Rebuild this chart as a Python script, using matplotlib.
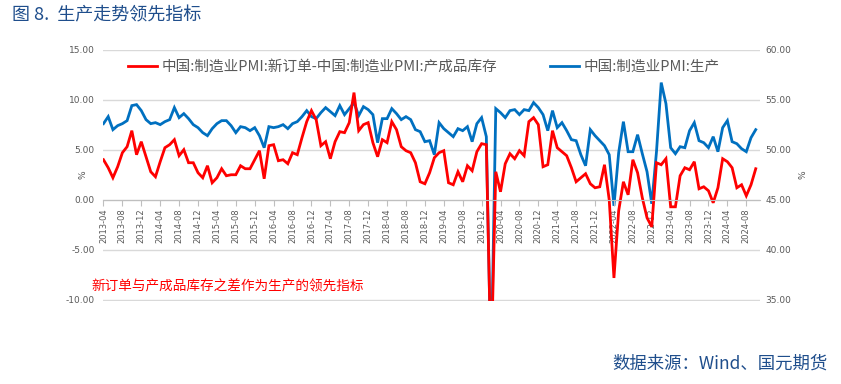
import pandas as pd
import numpy as np
import matplotlib
matplotlib.use("Agg")
import matplotlib.pyplot as plt

plt.rcParams['font.family'] = ['DejaVu Sans', 'Noto Sans CJK SC']
CJK = ['Noto Sans CJK SC', 'DejaVu Sans']

START_MONTH = '2013-04'
N_MONTHS = 139

# 中国:制造业PMI:新订单 - 中国:制造业PMI:产成品库存 (left axis)
spread = [4.0, 3.2, 2.2, 3.3, 4.7, 5.3, 6.9, 4.5, 5.8,
          4.3, 2.8, 2.3, 3.8, 5.2, 5.5, 6.0, 4.4, 5.0, 3.7, 3.7, 2.7,
          2.2, 3.4, 1.7, 2.2, 3.1, 2.4, 2.5, 2.5, 3.4, 3.1, 3.1, 4.0,
          4.9, 2.1, 5.4, 5.5, 3.9, 4.0, 3.6, 4.7, 4.5, 6.2, 7.8, 8.9,
          8.0, 5.4, 5.8, 4.1, 5.8, 6.8, 6.7, 7.7, 10.7, 6.9, 7.5, 7.7,
          5.7, 4.3, 6.0, 5.7, 7.8, 7.0, 5.3, 4.9, 4.7, 3.7, 1.8, 1.6,
          2.7, 4.2, 4.7, 4.9, 1.7, 1.5, 2.8, 1.8, 3.4, 2.9, 4.8, 5.6,
          5.5, -16.8, 2.8, 0.8, 3.6, 4.6, 4.1, 4.9, 4.4, 7.8, 8.2, 7.5,
          3.3, 3.5, 6.9, 5.2, 4.8, 4.4, 3.2, 1.8, 2.2, 2.6, 1.6, 1.2,
          1.3, 3.5, 0.0, -7.8, -1.1, 1.8, 0.5, 4.0, 2.7, 0.2, -1.8, -2.7,
          3.7, 3.5, 4.1, -0.7, -0.7, 2.4, 3.2, 3.0, 3.8, 1.1, 1.3, 0.9,
          -0.3, 1.2, 4.1, 3.8, 3.2, 1.2, 1.5, 0.4, 1.5, 3.1]

# 中国:制造业PMI:生产 (right axis)
production = [52.6, 53.3, 52.0, 52.4, 52.6, 52.9, 54.4, 54.5, 53.9,
              53.0, 52.6, 52.7, 52.5, 52.8, 53.0, 54.2, 53.2, 53.6, 53.1, 52.5, 52.2,
              51.7, 51.4, 52.1, 52.6, 52.9, 52.9, 52.4, 51.7, 52.3, 52.2, 51.9, 52.2,
              51.4, 50.2, 52.3, 52.2, 52.3, 52.5, 52.1, 52.6, 52.8, 53.3, 53.9, 53.3,
              53.1, 53.7, 54.2, 53.8, 53.4, 54.4, 53.5, 54.1, 54.7, 53.4, 54.3, 54.0,
              53.5, 50.7, 53.1, 53.1, 54.1, 53.6, 53.0, 53.3, 53.0, 52.0, 51.8, 50.8,
              50.9, 49.5, 52.7, 52.1, 51.7, 51.3, 52.1, 51.9, 52.3, 50.8, 52.6, 53.2,
              51.3, 27.8, 54.1, 53.7, 53.2, 53.9, 54.0, 53.5, 54.0, 53.9, 54.7, 54.2,
              53.5, 51.9, 53.9, 52.2, 52.7, 51.9, 51.0, 50.9, 49.5, 48.4, 52.0, 51.4,
              50.9, 50.4, 49.5, 44.4, 49.7, 52.8, 49.8, 49.8, 51.5, 49.6, 47.8, 44.6,
              49.8, 56.7, 54.6, 50.2, 49.6, 50.3, 50.2, 51.9, 52.7, 50.9, 50.7, 50.2,
              51.3, 49.8, 52.2, 52.9, 50.8, 50.6, 50.1, 49.8, 51.2, 52.0]

months = pd.date_range(START_MONTH, periods=N_MONTHS, freq='MS').strftime('%Y-%m').tolist()
x = np.arange(N_MONTHS)

fig = plt.figure(figsize=(8.41, 3.84), dpi=100)
ax2 = fig.add_axes([103 / 841, 1 - 300.5 / 384, (760 - 103) / 841, 251 / 384])
ax = ax2.twinx()
ax.set_zorder(ax2.get_zorder() + 1)
ax.patch.set_visible(False)

grid_c = '#d9d9d9'
ax2.plot(x, production, color='#0070C0', lw=2.0, label='中国:制造业PMI:生产', solid_joinstyle='miter')
ax.plot(x, spread, color='#FF0000', lw=2.0, label='中国:制造业PMI:新订单-中国:制造业PMI:产成品库存',
        solid_joinstyle='miter')

# ax is the twin (drawn on top) -> swap sides so red owns the left scale
ax.yaxis.tick_left()
ax2.yaxis.tick_right()
ax.set_ylim(-10.05, 15)
ax2.set_ylim(34.95, 60)
ax.set_yticks(np.arange(-10, 15.1, 5))
ax2.set_yticks(np.arange(35, 60.1, 5))
ax.set_yticklabels(['%.2f' % v for v in np.arange(-10, 15.1, 5)])
ax2.set_yticklabels(['%.2f' % v for v in np.arange(35, 60.1, 5)])
ax2.yaxis.grid(True, color=grid_c, lw=1.0)
ax2.set_axisbelow(True)
ax.tick_params(axis='y', length=0, labelsize=6.5, labelcolor='#595959', pad=6)
ax2.tick_params(axis='y', length=0, labelsize=6.5, labelcolor='#595959', pad=4)
for a in (ax, ax2):
    for s in ('top', 'left', 'right', 'bottom'):
        a.spines[s].set_visible(False)

ax.set_xlim(-0.1, N_MONTHS - 0.1)
ax2.tick_params(axis='x', length=0, labelbottom=False)
ax.xaxis.set_visible(True)
ax.spines['bottom'].set_visible(True)
ax.spines['bottom'].set_position(('data', 0))
ax.spines['bottom'].set_color('#bfbfbf')
ax.xaxis.set_ticks_position('bottom')
ax.set_xticks(x[::4])
ax.set_xticklabels(months[::4], rotation=90)
ax.tick_params(axis='x', length=4, color='#bfbfbf', labelsize=6, labelcolor='#595959', pad=2,
               labelbottom=True)

fig.text(83 / 841, 1 - 175 / 384, '%', rotation=90, fontsize=6.5, color='#595959', ha='center', va='center')
fig.text(803 / 841, 1 - 175 / 384, '%', rotation=90, fontsize=6.5, color='#595959', ha='center', va='center')

h1, l1 = ax.get_legend_handles_labels()
h2, l2 = ax2.get_legend_handles_labels()
fig.legend(h1 + h2, l1 + l2, loc='center', bbox_to_anchor=(424 / 841, 1 - 67 / 384), ncol=2,
           frameon=False, prop={'family': CJK, 'size': 10.5}, labelcolor='#595959',
           handlelength=2.0, handletextpad=0.3, columnspacing=3.6)

fig.text(12 / 841, 1 - 15 / 384, '图 8.  生产走势领先指标', family=CJK, fontsize=13,
         color='#1F4E8C', ha='left', va='center')
fig.text(91 / 841, 1 - 287 / 384, '新订单与产成品库存之差作为生产的领先指标', family=CJK, fontsize=9.8,
         color='#FF0000', ha='left', va='center')
fig.text(828 / 841, 1 - 364 / 384, '数据来源：Wind、国元期货', family=CJK, fontsize=12.5,
         color='#1F4E8C', ha='right', va='center')

fig.savefig('out.png', dpi=100)
